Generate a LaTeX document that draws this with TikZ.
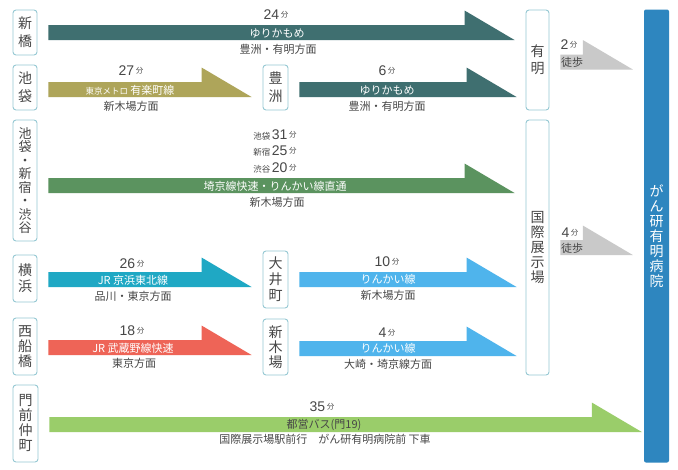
\documentclass[tikz,border=0pt]{standalone}
\usepackage{fontspec}
\setmainfont{Noto Sans CJK JP}
\newfontfamily\numfont{Liberation Sans}
\usepackage{xcolor}
\definecolor{cYuri}{HTML}{3F6F70}
\definecolor{cYuraku}{HTML}{AEA55A}
\definecolor{cSaikyo}{HTML}{5B935F}
\definecolor{cKeihin}{HTML}{1FA8C4}
\definecolor{cMusashi}{HTML}{EE6457}
\definecolor{cRinkai}{HTML}{4FB4EC}
\definecolor{cBus}{HTML}{9ACD6A}
\definecolor{cWalk}{HTML}{C9C9C9}
\definecolor{cHosp}{HTML}{2E86BF}
\definecolor{cFrame}{HTML}{95C8D3}
\definecolor{cText}{HTML}{474747}
\usetikzlibrary{positioning,calc}
\tikzset{
  node-station/.style={draw=cFrame,line width=0.9pt,rounded corners=3pt,
    fill=white,inner sep=0pt,align=center,text=cText,
    font=\fontsize{14}{16}\selectfont},
  node-goal/.style={fill=cHosp,rounded corners=2pt,inner sep=0pt,
    align=center,text=white,font=\fontsize{14}{15}\selectfont},
  node-time/.style={text=cText,inner sep=0pt},
  node-line/.style={text=white,inner sep=0pt,font=\fontsize{11}{12}\selectfont},
  node-dir/.style={text=cText,inner sep=0pt,font=\fontsize{11}{12}\selectfont},
  node-walk/.style={text=cText,inner sep=0pt,font=\fontsize{11}{12}\selectfont},
}
% 帯矢印: 始点ノード, 終点ノード, 先端の余白, 下方向のずれ, 色
\newcommand{\railarrow}[5]{%
  \fill[#5] let \p1=($(#1.east)+(11pt,-#4)$), \p2=($(#2.west)+(-#3,0)$) in
    (\x1,\y1+7.5pt) -- (\x2-50pt,\y1+7.5pt) -- (\x2-50pt,\y1+22pt)
    -- (\x2,\y1-7.5pt) -- (\x1,\y1-7.5pt) -- cycle;}
\newcommand{\mins}[1]{{\numfont\fontsize{14}{14}\selectfont #1}\,%
  \raisebox{2pt}{\fontsize{7.5}{8}\selectfont 分}}
\newcommand{\via}[1]{{\fontsize{8.5}{9}\selectfont #1}\,}

\begin{document}
\begin{tikzpicture}[x=1pt,y=-1pt]
  \fill[white] (0,0) rectangle (678,469);
  \useasboundingbox (0,0) rectangle (678,469);

  % 出発駅
  \node[node-station,minimum width=24pt,minimum height=45pt,
    font=\fontsize{14}{18}\selectfont] (shinbashi) at (25,32.5) {新\\橋};
  \node[node-station,minimum width=24pt,minimum height=45pt,
    font=\fontsize{14}{18}\selectfont] (ikebukuro) at (25,87.5) {池\\袋};
  \node[node-station,minimum width=24pt,minimum height=121pt,
    font=\fontsize{13}{13.5}\selectfont] (saikyo) at (25,180.5)
    {池\\袋\\・\\新\\宿\\・\\渋\\谷};
  \node[node-station,minimum width=24pt,minimum height=47pt] (yokohama)
    at (25,278.5) {横\\浜};
  \node[node-station,minimum width=24pt,minimum height=57pt,
    font=\fontsize{14}{15}\selectfont] (nishifuna) at (25,346.5) {西\\船\\橋};
  \node[node-station,minimum width=25pt,minimum height=77pt,
    font=\fontsize{14}{15}\selectfont] (monzen) at (25.5,423.5) {門\\前\\仲\\町};

  % 乗換駅
  \node[node-station,minimum width=25pt,minimum height=45pt,
    font=\fontsize{14}{18}\selectfont] (toyosu) at (275.5,87.5) {豊\\洲};
  \node[node-station,minimum width=25pt,minimum height=57pt] (oimachi)
    at (275.5,279.5) {大\\井\\町};
  \node[node-station,minimum width=25pt,minimum height=56pt,
    font=\fontsize{14}{15}\selectfont] (shinkiba) at (275.5,347) {新\\木\\場};

  % 到着駅と病院
  \node[node-station,minimum width=23pt,minimum height=100pt,
    font=\fontsize{14}{17}\selectfont] (ariake) at (537.5,60) {有\\明};
  \node[node-station,minimum width=23pt,minimum height=255pt,
    font=\fontsize{14}{15}\selectfont] (kokusai) at (537.5,247.5)
    {国\\際\\展\\示\\場};
  \node[node-goal,minimum width=25pt,minimum height=453pt] (hospital)
    at (656.5,236) {が\\ん\\研\\有\\明\\病\\院};

  \railarrow{shinbashi}{ariake}{11pt}{0pt}{cYuri}
  \railarrow{ikebukuro}{toyosu}{11pt}{2pt}{cYuraku}
  \railarrow{toyosu}{ariake}{9pt}{2pt}{cYuri}
  \railarrow{saikyo}{kokusai}{11pt}{5pt}{cSaikyo}
  \railarrow{yokohama}{oimachi}{11pt}{1pt}{cKeihin}
  \railarrow{oimachi}{kokusai}{9pt}{0pt}{cRinkai}
  \railarrow{nishifuna}{shinkiba}{11pt}{1pt}{cMusashi}
  \railarrow{shinkiba}{kokusai}{9pt}{1.5pt}{cRinkai}
  \railarrow{monzen}{hospital}{2pt}{1pt}{cBus}
  \railarrow{ariake}{hospital}{11pt}{2pt}{cWalk}
  \railarrow{kokusai}{hospital}{11pt}{0pt}{cWalk}

  \node[node-time] (t-shinbashi) at (276,15) {\mins{24}};
  \node[node-line] (l-shinbashi) at (277,33) {ゆりかもめ};
  \node[node-dir] (d-shinbashi) at (278,49) {豊洲・有明方面};

  \node[node-time] (t-ikebukuro) at (131,71) {\mins{27}};
  \node[node-line] (l-ikebukuro) at (130,90)
    {{\fontsize{8.5}{9}\selectfont 東京メトロ} 有楽町線};
  \node[node-dir] (d-ikebukuro) at (131,106) {新木場方面};

  \node[node-time] (t-toyosu) at (387,71) {\mins{6}};
  \node[node-line] (l-toyosu) at (387,90) {ゆりかもめ};
  \node[node-dir] (d-toyosu) at (387,106) {豊洲・有明方面};

  \node[node-time] (t-saikyo-a) at (275,135) {\via{池袋}\mins{31}};
  \node[node-time] (t-saikyo-b) at (275,151) {\via{新宿}\mins{25}};
  \node[node-time] (t-saikyo-c) at (275,168) {\via{渋谷}\mins{20}};
  \node[node-line] (l-saikyo) at (275,186) {埼京線快速・りんかい線直通};
  \node[node-dir] (d-saikyo) at (277,202) {新木場方面};

  \node[node-time] (t-yokohama) at (132,264) {\mins{26}};
  \node[node-line] (l-yokohama) at (133,280) {JR 京浜東北線};
  \node[node-dir] (d-yokohama) at (133,296) {品川・東京方面};

  \node[node-time] (t-oimachi) at (387,262) {\mins{10}};
  \node[node-line] (l-oimachi) at (388,279) {りんかい線};
  \node[node-dir] (d-oimachi) at (388,295) {新木場方面};

  \node[node-time] (t-nishifuna) at (132,331) {\mins{18}};
  \node[node-line] (l-nishifuna) at (133,348) {JR 武蔵野線快速};
  \node[node-dir] (d-nishifuna) at (134,363) {東京方面};

  \node[node-time] (t-shinkiba) at (387,333) {\mins{4}};
  \node[node-line] (l-shinkiba) at (388,348) {りんかい線};
  \node[node-dir] (d-shinkiba) at (388,364) {大崎・埼京線方面};

  \node[node-time] (t-monzen) at (322,407) {\mins{35}};
  \node[node-line,text=cText] (l-monzen) at (324,425) {都営バス(門19)};
  \node[node-dir] (d-monzen) at (325,439)
    {国際展示場駅前行　がん研有明病院前 下車};

  \node[node-time] (t-walk-a) at (569,45) {\mins{2}};
  \node[node-walk] (w-walk-a) at (572,62) {徒歩};
  \node[node-time] (t-walk-b) at (570,233) {\mins{4}};
  \node[node-walk] (w-walk-b) at (572,248) {徒歩};
\end{tikzpicture}
\end{document}
